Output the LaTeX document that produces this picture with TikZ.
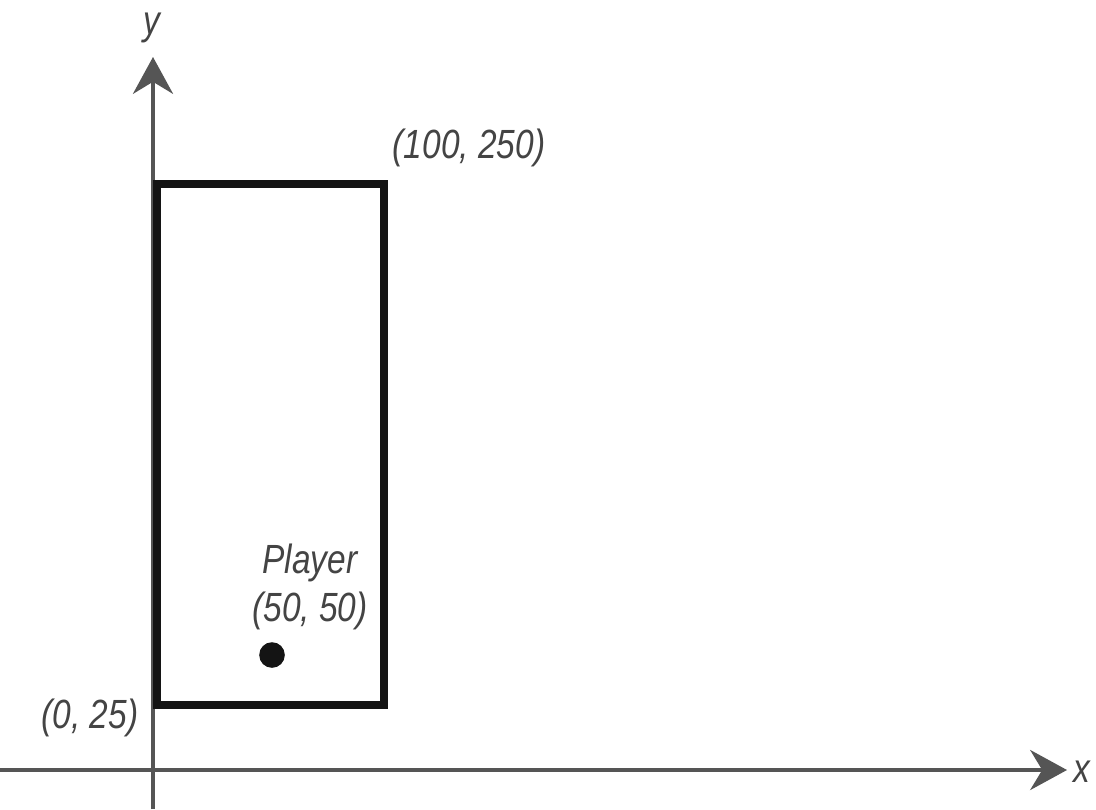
\documentclass[tikz,border=0pt]{standalone}
\usepackage{fontspec}
\newfontfamily\lblfont[FakeStretch=0.82]{Liberation Sans}
\usetikzlibrary{arrows.meta}
\definecolor{axisgray}{HTML}{555555}
\definecolor{textgray}{HTML}{444444}
\begin{document}
\begin{tikzpicture}[
        x=0.025cm, y=-0.025cm,
        axis/.style={draw=axisgray, line width=2.8pt, -{Stealth[length=0.92cm, width=1cm, inset=0.3cm]}},
        box/.style={draw=black!92, line width=6.2pt},
        label/.style={font=\lblfont\itshape\fontsize{29}{32}\selectfont, text=textgray, inner sep=0pt},
        player/.style={circle, fill=black!92, minimum size=0.64cm, inner sep=0pt}
    ]
        \useasboundingbox (0,0) rectangle (1096,809);

        % Axes
        \coordinate (ybot) at (153,809);
        \coordinate (ytop) at (153,57);
        \coordinate (xleft) at (0,770);
        \coordinate (xright) at (1067,770);
        \draw[axis] (ybot) -- (ytop);
        \draw[axis] (xleft) -- (xright);
        \node[label] (ylab) at (152,28) {y};
        \node[label] (xlab) at (1082,772) {x};

        % Zone rectangulaire
        \coordinate (ll) at (157,705);
        \coordinate (ur) at (384,184);
        \draw[box] (ll) rectangle (ur);
        \node[label] (llab) at (90,718) {(0, 25)};
        \node[label] (ulab) at (469,148) {(100, 250)};

        % Joueur
        \node[player] (P) at (272,655) {};
        \node[label] (pname) at (310,563) {Player};
        \node[label] (ppos) at (310,611) {(50, 50)};
    \end{tikzpicture}
\end{document}
